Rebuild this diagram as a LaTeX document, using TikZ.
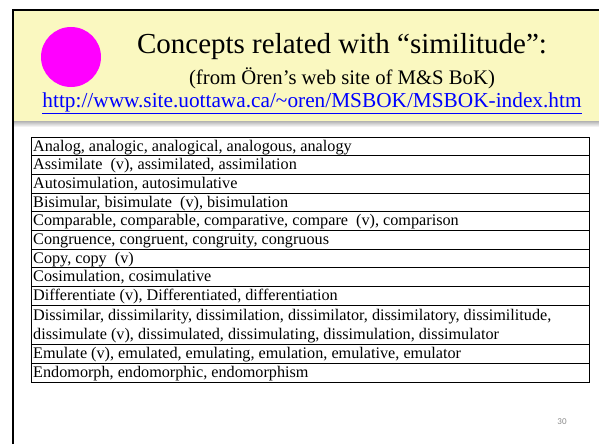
\documentclass[tikz,border=0pt]{standalone}
\usepackage{fontspec}
\setmainfont{Liberation Serif}
\newfontfamily\pagenumfont{Carlito}
\definecolor{bandyellow}{RGB}{250,248,192}
\definecolor{urlblue}{RGB}{0,0,255}
\definecolor{dotmagenta}{RGB}{255,0,255}
\definecolor{pagegray}{RGB}{140,140,140}
\tikzset{
  rowtext/.style={anchor=base west, inner sep=0pt, font=\fontsize{16.2}{18}\selectfont},
  rowline/.style={line width=0.9pt},
  titletext/.style={inner sep=0pt, font=\fontsize{29}{32}\selectfont},
  subtext/.style={inner sep=0pt, font=\fontsize{20.7}{24}\selectfont},
  urltext/.style={inner sep=0pt, text=urlblue, font=\fontsize{21.3}{24}\selectfont},
}
\begin{document}
\begin{tikzpicture}[x=1pt,y=-1pt]
\useasboundingbox (0,0) rectangle (599,444);
\fill[white] (0,0) rectangle (599,444);
% header band
\shade[top color=black!30, bottom color=white] (14,121) rectangle (599,127);
\fill[bandyellow] (14,11) rectangle (599,121);
\draw[line width=2.6pt] (13,444) -- (13,10) -- (599,10);
% magenta dot
\fill[dotmagenta] (71,57) ellipse (30 and 30);
% header texts
\node[titletext] (title) at (342,47) {Concepts related with “similitude”:};
\node[subtext] (sub) at (342,78) {(from Ören’s web site of M\&S BoK)};
\node[urltext] (url) at (312,103) {\underline{http://www.site.uottawa.ca/\textasciitilde oren/MSBOK/MSBOK-index.htm}};
% table
\draw[rowline] (31,137) rectangle (589,382.2);
\foreach \yy in {155.7,174.4,193.1,211.8,230.5,249.2,267.9,286.6,305.3,344.8,363.5}
  \draw[rowline] (31,\yy) -- (589,\yy);
\node[rowtext] (r1) at (33,151) {Analog, analogic, analogical, analogous, analogy};
\node[rowtext] (r2) at (33,169.7) {Assimilate\ \ (v), assimilated, assimilation};
\node[rowtext] (r3) at (33,188.4) {Autosimulation, autosimulative};
\node[rowtext] (r4) at (33,207.1) {Bisimular, bisimulate\ \ (v), bisimulation};
\node[rowtext] (r5) at (33,225.8) {Comparable, comparable, comparative, compare\ \ (v), comparison};
\node[rowtext] (r6) at (33,244.5) {Congruence, congruent, congruity, congruous};
\node[rowtext] (r7) at (33,263.2) {Copy, copy\ \ (v)};
\node[rowtext] (r8) at (33,281.9) {Cosimulation, cosimulative};
\node[rowtext] (r9) at (33,300.6) {Differentiate (v), Differentiated, differentiation};
\node[rowtext] (r10a) at (33,320.5) {Dissimilar, dissimilarity, dissimilation, dissimilator, dissimilatory, dissimilitude,};
\node[rowtext] (r10b) at (33,339.5) {dissimulate (v), dissimulated, dissimulating, dissimulation, dissimulator};
\node[rowtext] (r11) at (33,358.8) {Emulate (v), emulated, emulating, emulation, emulative, emulator};
\node[rowtext] (r12) at (33,377.5) {Endomorph, endomorphic, endomorphism};
% page number
\node[inner sep=0pt, text=pagegray, font=\pagenumfont\fontsize{9}{10}\selectfont] (pnum) at (562,422) {30};
\end{tikzpicture}
\end{document}
